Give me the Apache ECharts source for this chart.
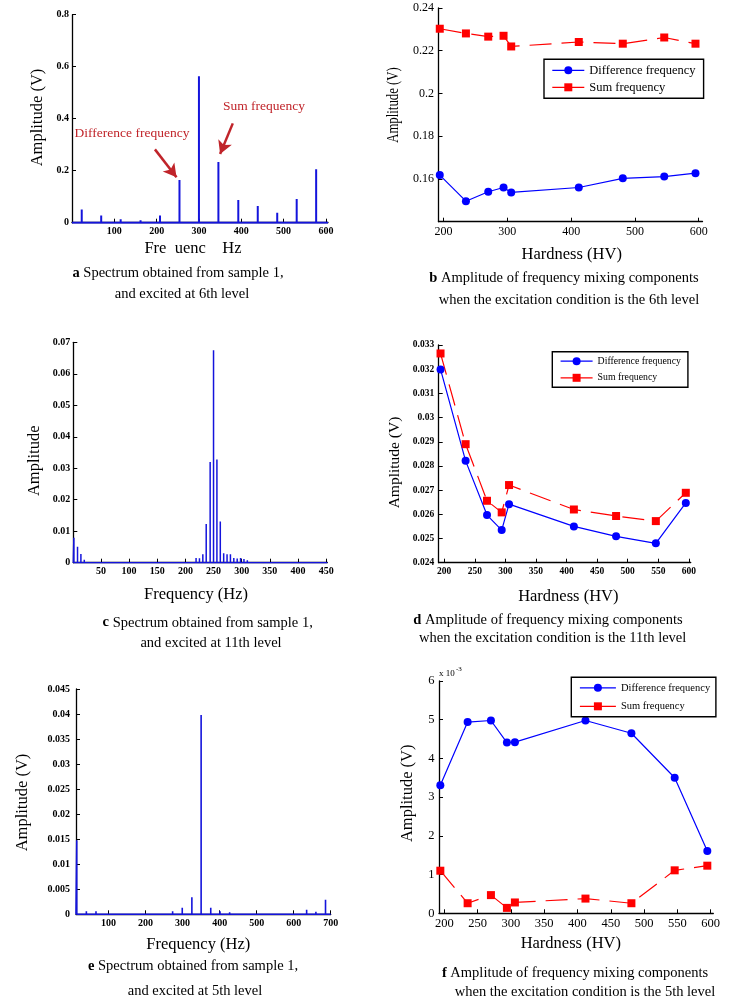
<!DOCTYPE html>
<html><head><meta charset="utf-8">
<script src="https://cdn.jsdelivr.net/npm/echarts@6/dist/echarts.min.js"></script>
<style>html,body{margin:0;padding:0;background:#fff;} #c{width:749px;height:1003px;}</style>
</head><body><div id="c"></div>
<script>
// ---------- data ----------
const hardness = [194, 235, 270, 294, 306, 412, 481, 546, 595];
// panel b (6th level), V
const bDiff = [0.1618, 0.1496, 0.1540, 0.1560, 0.1537, 0.1560, 0.1603, 0.1611, 0.1627];
const bSum  = [0.2303, 0.2281, 0.2266, 0.2270, 0.2220, 0.2241, 0.2233, 0.2262, 0.2233];
// panel d (11th level), V
const dDiff = [0.03199, 0.02821, 0.02597, 0.02535, 0.02642, 0.02550, 0.02509, 0.02480, 0.02647];
const dSum  = [0.03265, 0.02890, 0.02656, 0.02608, 0.02721, 0.02620, 0.02593, 0.02572, 0.02689];
// panel f (5th level), x 10^-3 V
const fDiff = [3.31, 4.94, 4.98, 4.41, 4.42, 4.98, 4.65, 3.50, 1.61];
const fSum  = [1.10, 0.26, 0.47, 0.14, 0.28, 0.38, 0.26, 1.11, 1.23];
// spectra
const aFreq = [23, 69, 115, 162, 208, 254, 300, 346, 393, 439, 485, 531, 577];
const aAmp  = [0.051, 0.028, 0.013, 0.009, 0.028, 0.164, 0.563, 0.233, 0.087, 0.064, 0.038, 0.091, 0.206];
const cFreq = [2, 8.5, 14.5, 20.5, 26.5, 32.5, 200, 206, 213, 219, 225, 231, 237, 244, 250, 256, 262, 268, 274, 280, 286, 292, 298, 304, 310, 316, 322];
const cAmp  = [0.0079, 0.0051, 0.0028, 0.0009, 0.0006, 0.0005, 0.0006, 0.0006, 0.0006, 0.0015, 0.0014, 0.0027, 0.0123, 0.0320, 0.0675, 0.0328, 0.0131, 0.0030, 0.0027, 0.0027, 0.0015, 0.0013, 0.0015, 0.0012, 0.0008, 0.0006, 0.0006];
const eFreq = [14, 40, 66, 92, 248, 273, 299, 325, 350, 376, 401, 427, 453, 479, 583, 635, 660, 686];
const eAmp  = [0.0148, 0.0006, 0.0006, 0.0003, 0.0003, 0.0006, 0.0013, 0.0034, 0.0398, 0.0013, 0.0006, 0.0004, 0.0002, 0.0002, 0.0003, 0.0009, 0.0005, 0.0029];
// tick labels
const aXTicks = [100, 200, 300, 400, 500, 600];
const aYTicks = [0, 0.2, 0.4, 0.6, 0.8];
const bXTicks = [200, 300, 400, 500, 600];
const bYTicks = [0.16, 0.18, 0.2, 0.22, 0.24];
const cXTicks = [50, 100, 150, 200, 250, 300, 350, 400, 450];
const cYTicks = [0, 0.01, 0.02, 0.03, 0.04, 0.05, 0.06, 0.07];
const dXTicks = [200, 250, 300, 350, 400, 450, 500, 550, 600];
const dYTicks = [0.024, 0.025, 0.026, 0.027, 0.028, 0.029, 0.03, 0.031, 0.032, 0.033];
const eXTicks = [100, 200, 300, 400, 500, 600, 700];
const eYTicks = [0, 0.005, 0.01, 0.015, 0.02, 0.025, 0.03, 0.035, 0.04, 0.045];
const fXTicks = [200, 250, 300, 350, 400, 450, 500, 550, 600];
const fYTicks = [0, 1, 2, 3, 4, 5, 6];
// annotation arrows in panel a (data coordinates: [from], [to])
const diffArrow = [[196, 0.282], [247, 0.175]];
const sumArrow  = [[380, 0.382], [350, 0.264]];

// ---------- helpers ----------
const F = '"Liberation Serif","Times New Roman",serif';
function spectrum(freqs, amps, xmin, xmax) {
  const d = [[xmin, 0]];
  freqs.forEach((f, i) => { d.push([f, 0], [f, amps[i]], [f, 0]); });
  d.push([xmax, 0]);
  return d;
}
function pairs(xs, ys) { return xs.map((x, i) => [x, ys[i]]); }

function xAx(gi, min, max, ticks, fs, bold) {
  return {
    type: 'value', gridIndex: gi, min: min, max: max,
    axisLine: { lineStyle: { color: '#000', width: 1.3 } },
    axisTick: { inside: true, length: 4, customValues: ticks, lineStyle: { color: '#000', width: 1 } },
    axisLabel: { customValues: ticks, color: '#000', fontFamily: F, fontSize: fs, fontWeight: bold ? 'bold' : 'normal', margin: 4 },
    splitLine: { show: false }
  };
}
function yAx(gi, min, max, ticks, fs, bold, margin) {
  return {
    type: 'value', gridIndex: gi, min: min, max: max,
    axisLine: { show: true, lineStyle: { color: '#000', width: 1.3 } },
    axisTick: { show: true, inside: true, length: 4, customValues: ticks, lineStyle: { color: '#000', width: 1 } },
    axisLabel: { customValues: ticks, color: '#000', fontFamily: F, fontSize: fs, fontWeight: bold ? 'bold' : 'normal', margin: margin },
    splitLine: { show: false }
  };
}
const BLUE = '#0000ff', RED = '#ff0000', SPEC = '#1414dc', ANN = '#c0242a';
function diffSeries(gi, ys) {
  return { name: 'Difference frequency', type: 'line', xAxisIndex: gi, yAxisIndex: gi, data: pairs(hardness, ys),
    symbol: 'circle', symbolSize: 8, itemStyle: { color: BLUE }, lineStyle: { color: BLUE, width: 1.2 }, z: 3 };
}
function sumSeries(gi, ys) {
  return { name: 'Sum frequency', type: 'line', xAxisIndex: gi, yAxisIndex: gi, data: pairs(hardness, ys),
    symbol: 'rect', symbolSize: 8, itemStyle: { color: RED }, lineStyle: { color: RED, width: 1.2, type: [22, 10] }, z: 3 };
}
function specSeries(gi, freqs, amps, xmin, xmax, w) {
  return { name: 'spec' + gi, type: 'line', xAxisIndex: gi, yAxisIndex: gi, data: spectrum(freqs, amps, xmin, xmax),
    symbol: 'none', lineStyle: { color: SPEC, width: w }, z: 3 };
}
function legendAt(left, top, fs, iw, pad, gap) {
  return { data: ['Difference frequency', 'Sum frequency'], orient: 'vertical', left: left, top: top,
    itemWidth: iw, itemHeight: 10, itemGap: gap, padding: pad, borderColor: '#000', borderWidth: 1.4,
    backgroundColor: '#fff', selectedMode: false,
    lineStyle: { type: 'solid', width: 1.2 },
    textStyle: { fontFamily: F, fontSize: fs, color: '#000' } };
}
function txt(x, y, s, fs, rot, extra, sx) {
  const o = { type: 'text', x: x, y: y, rotation: rot || 0, scaleX: sx || 1, silent: true,
    style: Object.assign({ text: s, fontFamily: F, fontSize: fs, fill: '#000', align: 'center', verticalAlign: 'middle' }, extra || {}) };
  return o;
}
function cap(x, y, letter, rest) {
  return { type: 'text', x: x, y: y, silent: true,
    style: { text: '{b|' + letter + '} ' + rest, fontFamily: F, fontSize: 14.5, fill: '#000', align: 'center', verticalAlign: 'middle',
      rich: { b: { fontFamily: F, fontSize: 14.5, fontWeight: 'bold', fill: '#000' } } } };
}
function arrowLine(seg) {
  return [{ coord: seg[0], symbol: 'none' }, { coord: seg[1], symbol: 'arrow', symbolSize: [11, 13] }];
}

const chart = echarts.init(document.getElementById('c'), null, { renderer: 'canvas' });
const option = {
  animation: false,
  backgroundColor: '#fff',
  grid: [
    { left: 72, top: 14.7, width: 256, height: 208 },
    { left: 438.5, top: 8, width: 264, height: 213.7 },
    { left: 73.3, top: 342.3, width: 254, height: 220.4 },
    { left: 438.7, top: 345, width: 252, height: 217.7 },
    { left: 76, top: 689, width: 254.7, height: 225.3 },
    { left: 439, top: 681, width: 274.3, height: 232.3 }
  ],
  xAxis: [
    xAx(0, 0, 605, aXTicks, 10, true),
    xAx(1, 192, 606, bXTicks, 12, false),
    xAx(2, 1, 452, cXTicks, 10, true),
    xAx(3, 191, 603, dXTicks, 9.5, true),
    xAx(4, 12, 700, eXTicks, 10, true),
    xAx(5, 192, 604, fXTicks, 12.5, false)
  ],
  yAxis: [
    yAx(0, 0, 0.8, aYTicks, 10, true, 3),
    yAx(1, 0.14, 0.24, bYTicks, 12, false, 4.5),
    yAx(2, 0, 0.07, cYTicks, 10, true, 3),
    yAx(3, 0.024, 0.033, dYTicks, 9.5, true, 4.5),
    yAx(4, 0, 0.045, eYTicks, 10, true, 6),
    yAx(5, 0, 6, fYTicks, 12.5, false, 4.5)
  ],
  legend: [
    legendAt(544, 59.3, 12.5, 32, [4.5, 8, 4.5, 7.7], 4),
    legendAt(552.3, 351.7, 9.8, 32, [4.5, 7, 4.5, 7.7], 6.6),
    legendAt(571.3, 677.3, 10.5, 36, [5, 5.7, 5, 8], 7.5)
  ],
  series: [
    Object.assign(specSeries(0, aFreq, aAmp, 0, 605, 2), {
      markLine: { silent: true, symbol: ['none', 'arrow'], symbolSize: 12, animation: false,
        itemStyle: { color: ANN },
        lineStyle: { color: ANN, width: 2.5, type: 'solid' }, label: { show: false }, emphasis: { disabled: true },
        data: [ arrowLine(diffArrow), arrowLine(sumArrow) ] }
    }),
    diffSeries(1, bDiff), sumSeries(1, bSum),
    specSeries(2, cFreq, cAmp, 1, 452, 1.5),
    diffSeries(3, dDiff), sumSeries(3, dSum),
    specSeries(4, eFreq, eAmp, 12, 700, 1.6),
    diffSeries(5, fDiff), sumSeries(5, fSum)
  ],
  graphic: [
    // panel a
    txt(38, 117.5, 'Amplitude (V)', 16.5, Math.PI / 2),
    txt(193, 249, 'Fre  uenc    Hz', 16.5),
    txt(132, 133, 'Difference frequency', 13.5, 0, { fill: ANN }),
    txt(264, 106, 'Sum frequency', 13.5, 0, { fill: ANN }),
    cap(178, 273, 'a', 'Spectrum obtained from sample 1,'),
    txt(182, 294, 'and excited at 6th level', 14.5),
    // panel b
    txt(394, 105, 'Amplitude (V)', 16, Math.PI / 2, null, 0.8),
    txt(571.7, 255, 'Hardness (HV)', 16.5),
    cap(564, 278, 'b', 'Amplitude of frequency mixing components'),
    txt(569, 300, 'when the excitation condition is the 6th level', 14.5),
    // panel c
    txt(34.5, 460.8, 'Amplitude', 16.5, Math.PI / 2),
    txt(196, 595, 'Frequency (Hz)', 16.5),
    cap(207.7, 622.7, 'c', 'Spectrum obtained from sample 1,'),
    txt(211, 643.3, 'and excited at 11th level', 14.5),
    // panel d
    txt(395, 462.5, 'Amplitude (V)', 15.5, Math.PI / 2),
    txt(568.3, 596.7, 'Hardness (HV)', 16.5),
    cap(548, 620, 'd', 'Amplitude of frequency mixing components'),
    txt(552.7, 638.3, 'when the excitation condition is the 11th level', 14.5),
    // panel e
    txt(22.5, 802.5, 'Amplitude (V)', 16.5, Math.PI / 2),
    txt(198.3, 945, 'Frequency (Hz)', 16.5),
    cap(193, 966, 'e', 'Spectrum obtained from sample 1,'),
    txt(195, 991, 'and excited at 5th level', 14.5),
    // panel f
    txt(408, 793.3, 'Amplitude (V)', 16.5, Math.PI / 2),
    txt(570.8, 944, 'Hardness (HV)', 16.5),
    txt(439, 674, 'x 10', 9, 0, { align: 'left' }),
    txt(456, 669, '-3', 7, 0, { align: 'left' }),
    cap(575, 973.3, 'f', 'Amplitude of frequency mixing components'),
    txt(585, 991.7, 'when the excitation condition is the 5th level', 14.5)
  ]
};
chart.setOption(option);
</script>
</body></html>
